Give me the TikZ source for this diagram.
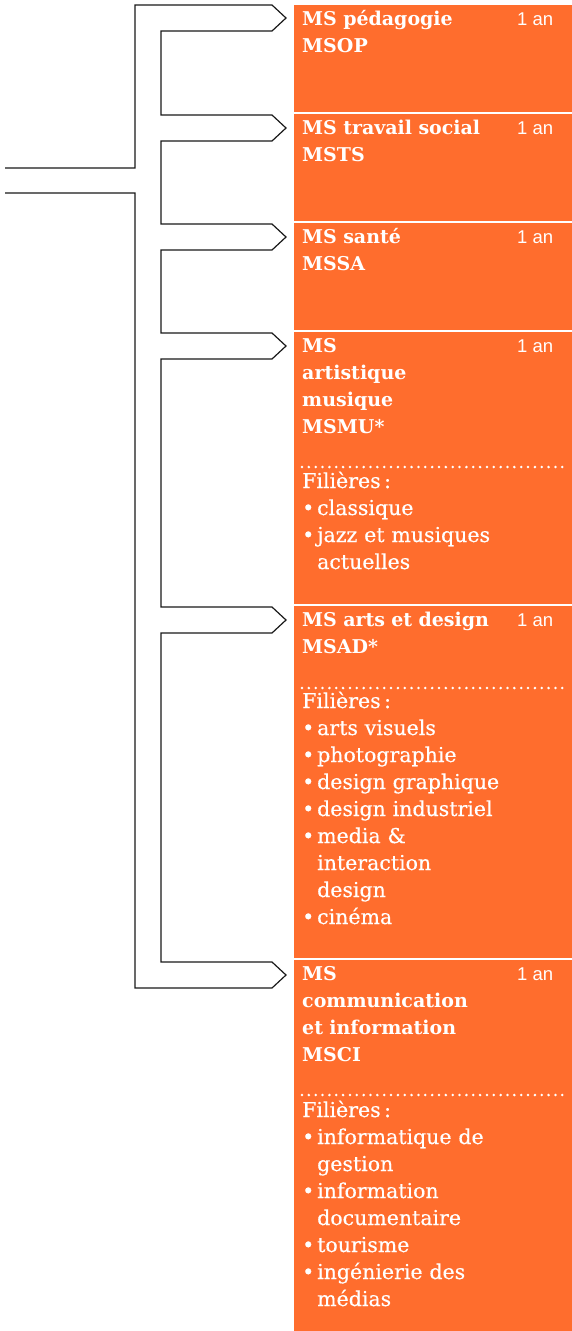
\documentclass[tikz,border=0pt]{standalone}
\usepackage{fontspec}
\setmainfont{DejaVu Serif}
\newfontfamily\durfont{Liberation Sans}
\newfontfamily\lstfont{DejaVu Serif}[FakeBold=0.4]
\definecolor{boxorange}{RGB}{255,109,45}
\newcommand\bitem[1]{\makebox[15pt][l]{•}#1}
\newcommand\bcont[1]{\hspace*{15pt}#1}
\tikzset{
  box/.style={fill=boxorange, draw=none, anchor=north west, inner sep=0pt, minimum width=278pt},
  ttl/.style={anchor=base west, inner sep=0pt, text=white, text width=200pt, align=left,
    font=\fontsize{19}{27}\selectfont\bfseries},
  dur/.style={anchor=base west, inner sep=0pt, text=white, font=\durfont\fontsize{18.5}{27}\selectfont},
  lst/.style={anchor=base west, inner sep=0pt, text=white, text width=265pt, align=left,
    font=\lstfont\fontsize{20.5}{27}\selectfont},
  dotrow/.style={white, line width=2.8pt, line cap=round, dash pattern=on 0pt off 6.85pt},
  conn/.style={black!90, line width=1.2pt, line join=miter}
}
\begin{document}
\begin{tikzpicture}[x=1pt,y=-1pt]
\useasboundingbox (0,0) rectangle (572,1331);
% boxes
\node[box, minimum height=107pt] (b1) at (294,5) {};
\node[box, minimum height=107pt] (b2) at (294,114) {};
\node[box, minimum height=107pt] (b3) at (294,223) {};
\node[box, minimum height=272pt] (b4) at (294,332) {};
\node[box, minimum height=352pt] (b5) at (294,606) {};
\node[box, minimum height=371pt] (b6) at (294,960) {};
% titles
\node[ttl] (t1) at (302,25) {MS pédagogie\\MSOP};
\node[ttl] (t2) at (302,134) {MS travail social\\MSTS};
\node[ttl] (t3) at (302,243) {MS santé\\MSSA};
\node[ttl] (t4) at (302,352) {MS\\artistique\\musique\\MSMU*};
\node[ttl] (t5) at (302,626) {MS arts et design\\MSAD*};
\node[ttl] (t6) at (302,980) {MS\\communication\\et information\\MSCI};
% durations
\node[dur] (d1) at (517,25) {1 an};
\node[dur] (d2) at (517,134) {1 an};
\node[dur] (d3) at (517,243) {1 an};
\node[dur] (d4) at (517,352) {1 an};
\node[dur] (d5) at (517,626) {1 an};
\node[dur] (d6) at (517,980) {1 an};
% dotted separators
\draw[dotrow] (302,467) -- (568,467);
\draw[dotrow] (302,688) -- (568,688);
\draw[dotrow] (302,1095) -- (568,1095);
% lists
\node[lst] (l4) at (302,488) {Filières\thinspace:\\\bitem{classique}\\\bitem{jazz et musiques}\\\bcont{actuelles}};
\node[lst] (l5) at (302,708) {Filières\thinspace:\\\bitem{arts visuels}\\\bitem{photographie}\\\bitem{design graphique}\\\bitem{design industriel}\\\bitem{media \&}\\\bcont{interaction}\\\bcont{design}\\\bitem{cinéma}};
\node[lst] (l6) at (302,1117) {Filières\thinspace:\\\bitem{informatique de}\\\bcont{gestion}\\\bitem{information}\\\bcont{documentaire}\\\bitem{tourisme}\\\bitem{ingénierie des}\\\bcont{médias}};
% connector
\coordinate (in1) at (5,168);
\coordinate (in2) at (5,193);
\coordinate (a1) at (286,18);
\coordinate (a2) at (286,128);
\coordinate (a3) at (286,237);
\coordinate (a4) at (286,346);
\coordinate (a5) at (286,620);
\coordinate (a6) at (286,975);
\draw[conn] (in1) -- (135,168) -- (135,5) -- (272,5) -- (a1) -- (272,31) -- (161,31)
  -- (161,115) -- (272,115) -- (a2) -- (272,141) -- (161,141)
  -- (161,224) -- (272,224) -- (a3) -- (272,250) -- (161,250)
  -- (161,333) -- (272,333) -- (a4) -- (272,359) -- (161,359)
  -- (161,607) -- (272,607) -- (a5) -- (272,633) -- (161,633)
  -- (161,962) -- (272,962) -- (a6) -- (272,988) -- (135,988)
  -- (135,193) -- (in2);
\end{tikzpicture}
\end{document}
